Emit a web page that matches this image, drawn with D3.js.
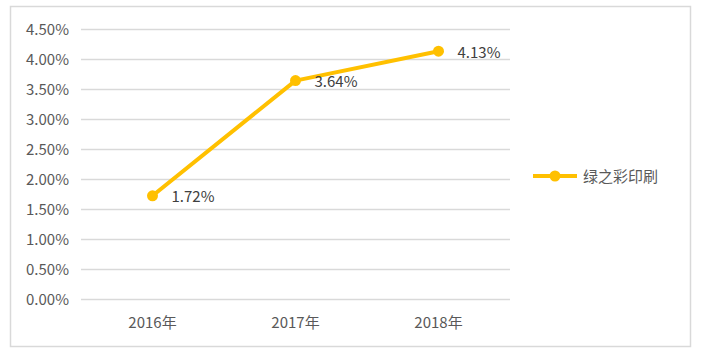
<!DOCTYPE html>
<html><head><meta charset="utf-8">
<script src="https://cdn.jsdelivr.net/npm/d3@7"></script>
<style>body{margin:0;background:#fff}svg{display:block}</style>
</head><body>
<svg id="c" width="702" height="355"></svg>
<script>
const categories = ["2016年", "2017年", "2018年"];
const values = [0.0172, 0.0364, 0.0413];
const dataLabels = ["1.72%", "3.64%", "4.13%"];
const yTicks = [0, 0.005, 0.01, 0.015, 0.02, 0.025, 0.03, 0.035, 0.04, 0.045];
const seriesName = "绿之彩印刷";

const svg = d3.select("#c");
const font = "'Noto Sans CJK SC', 'Noto Sans', sans-serif";
svg.append("rect").attr("x", 10.5).attr("y", 6.5).attr("width", 680).attr("height", 340)
  .attr("fill", "#fff").attr("stroke", "#d9d9d9").attr("stroke-width", 1.5);

const x = d3.scaleBand().domain(categories).range([81, 510]);
const y = d3.scaleLinear().domain([0, 0.045]).range([299, 29]);

const g = svg.append("g");
g.selectAll("line.grid").data(yTicks).join("line")
  .attr("x1", 81).attr("x2", 510)
  .attr("y1", d => Math.round(y(d)) + 0.5).attr("y2", d => Math.round(y(d)) + 0.5)
  .attr("stroke", "#d9d9d9").attr("stroke-width", 1.3);

g.selectAll("text.yt").data(yTicks).join("text")
  .attr("x", 69).attr("y", d => y(d) + 5.5)
  .attr("text-anchor", "end").attr("fill", "#595959")
  .style("font-family", font).style("font-size", "15px")
  .text(d => d3.format(".2%")(d));

g.selectAll("text.xt").data(categories).join("text")
  .attr("x", d => x(d) + x.bandwidth() / 2).attr("y", 328)
  .attr("text-anchor", "middle").attr("fill", "#595959")
  .style("font-family", font).style("font-size", "15px")
  .text(d => d);

const pts = categories.map((c, i) => [x(c) + x.bandwidth() / 2, y(values[i])]);
g.append("path").attr("d", d3.line()(pts)).attr("fill", "none")
  .attr("stroke", "#FFC000").attr("stroke-width", 4).attr("stroke-linejoin", "round");
g.selectAll("circle.pt").data(pts).join("circle")
  .attr("cx", d => d[0]).attr("cy", d => d[1]).attr("r", 5.5).attr("fill", "#FFC000");
g.selectAll("text.dl").data(pts).join("text")
  .attr("x", d => d[0] + 19).attr("y", d => d[1] + 6.5)
  .attr("fill", "#404040")
  .style("font-family", font).style("font-size", "15px")
  .text((d, i) => dataLabels[i]);

const leg = svg.append("g");
leg.append("line").attr("x1", 533).attr("x2", 577).attr("y1", 176).attr("y2", 176)
  .attr("stroke", "#FFC000").attr("stroke-width", 4);
leg.append("circle").attr("cx", 555).attr("cy", 176).attr("r", 5.5).attr("fill", "#FFC000");
leg.append("text").attr("x", 583).attr("y", 182).attr("fill", "#595959")
  .style("font-family", font).style("font-size", "15px")
  .text(seriesName);
</script>
</body></html>
